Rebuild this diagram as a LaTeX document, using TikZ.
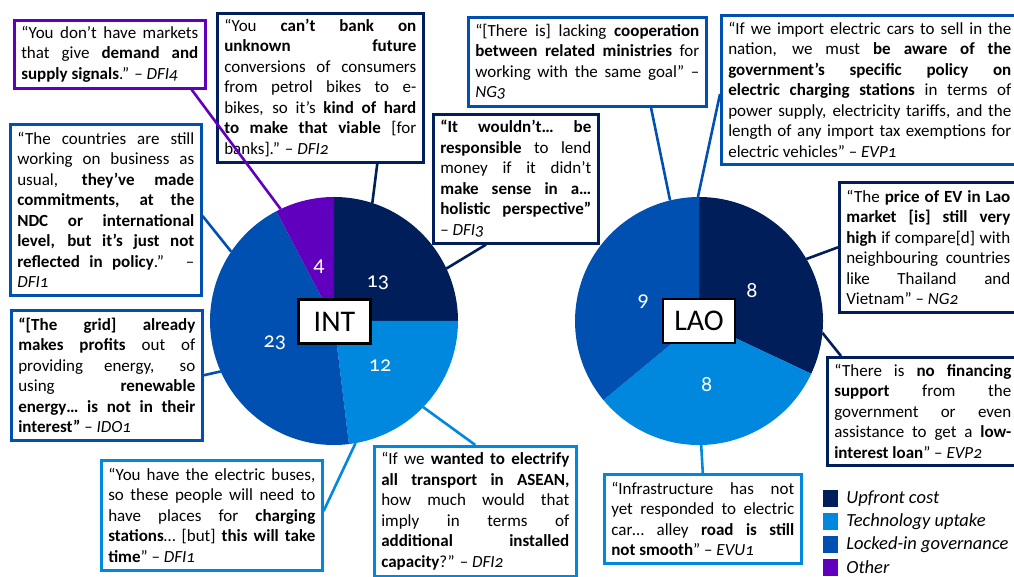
\documentclass[tikz,border=0pt]{standalone}
\usepackage{fontspec}
\setmainfont{Carlito}[Numbers=OldStyle]
\usepackage{tikz}
\usetikzlibrary{positioning}
\definecolor{upfrontNavy}{RGB}{0,30,90}
\definecolor{uptakeBlue}{RGB}{0,136,222}
\definecolor{lockedBlue}{RGB}{0,80,178}
\definecolor{otherPurple}{RGB}{96,0,190}

\begin{document}
\begin{tikzpicture}[
  x=1pt,y=1pt,
  quote/.style={draw,line width=2.6pt,fill=white,anchor=north west,align=justify,inner xsep=7pt,inner ysep=3pt,font=\fontsize{17}{20.5}\selectfont},
  link/.style={line width=2.6pt},
  pienum/.style={text=white,font=\fontsize{22}{24}\selectfont},
  tag/.style={draw=black,line width=2.4pt,fill=white,minimum width=72pt,minimum height=44pt,inner sep=0pt,font=\fontsize{30}{32}\selectfont},
  legbox/.style={minimum width=15pt,minimum height=17pt,inner sep=0pt},
  legtext/.style={inner sep=0pt,font=\fontsize{18.5}{21}\selectfont\itshape}
]
\useasboundingbox (0,0) rectangle (1014,577);
\clip (0,0) rectangle (1014,577);

% pies
\coordinate (intC) at (334,256);
\coordinate (laoC) at (699,256);
\fill[upfrontNavy] (intC) -- ++(90:124) arc[start angle=90,end angle=0,radius=124] -- cycle;
\fill[uptakeBlue] (intC) -- ++(0:124) arc[start angle=0,end angle=-83.08,radius=124] -- cycle;
\fill[lockedBlue] (intC) -- ++(-83.08:124) arc[start angle=-83.08,end angle=-242.31,radius=124] -- cycle;
\fill[otherPurple] (intC) -- ++(117.69:124) arc[start angle=117.69,end angle=90,radius=124] -- cycle;
\fill[upfrontNavy] (laoC) -- ++(90:124) arc[start angle=90,end angle=-25.2,radius=124] -- cycle;
\fill[uptakeBlue] (laoC) -- ++(-25.2:124) arc[start angle=-25.2,end angle=-140.4,radius=124] -- cycle;
\fill[lockedBlue] (laoC) -- ++(-140.4:124) arc[start angle=-140.4,end angle=-270,radius=124] -- cycle;

\node[pienum] (nIntUp) at ([shift={(41:58)}]intC) {13};
\node[pienum] (nIntTech) at ([shift={(-44:64)}]intC) {12};
\node[pienum] (nIntLock) at ([shift={(200:63)}]intC) {23};
\node[pienum] (nIntOther) at ([shift={(105.5:56)}]intC) {4};
\node[pienum] (nLaoUp) at ([shift={(30:61)}]laoC) {8};
\node[pienum] (nLaoTech) at ([shift={(-83:64)}]laoC) {8};
\node[pienum] (nLaoLock) at ([shift={(161:59)}]laoC) {9};

\node[tag] (intTag) at (334.5,255.5) {INT};
\node[tag] (laoTag) at (699,256) {LAO};

% quotes round INT
\node[quote,draw=otherPurple,text width=177pt,minimum height=68pt] (qDFIfour) at (13,558)
  {“You don't have markets\linebreak that give \textbf{demand and}\linebreak \textbf{supply signals}.” – \textit{DFI4}};
\node[quote,draw=upfrontNavy,text width=192pt,minimum height=149pt] (qDFItwoA) at (216,565)
  {“You \textbf{can't bank on}\linebreak \textbf{unknown future}\linebreak conversions of consumers\linebreak from petrol bikes to e-\linebreak bikes, so it's \textbf{kind of hard}\linebreak \textbf{to make that viable} [for\linebreak banks].” – \textit{DFI2}};
\node[quote,draw=lockedBlue,text width=177pt,minimum height=171pt] (qDFIoneA) at (9,454)
  {“The countries are still\linebreak working on business as\linebreak usual, \textbf{they've made}\linebreak \textbf{commitments, at the}\linebreak \textbf{NDC or international}\linebreak \textbf{level, but it's just not}\linebreak \textbf{reflected in policy}.” –\linebreak \textit{DFI1}};
\node[quote,draw=lockedBlue,text width=177pt,minimum height=130pt] (qIDOone) at (10,268)
  {\textbf{“[The grid] already}\linebreak \textbf{makes profits} out of\linebreak providing energy, so\linebreak using \textbf{renewable}\linebreak \textbf{energy… is not in their}\linebreak \textbf{interest”} – \textit{IDO1}};
\node[quote,draw=uptakeBlue,text width=207pt,minimum height=110pt] (qDFIoneB) at (100,118)
  {“You have the electric buses,\linebreak so these people will need to\linebreak have places for \textbf{charging}\linebreak \textbf{stations}… [but] \textbf{this will take}\linebreak \textbf{time}” – \textit{DFI1}};
\node[quote,draw=uptakeBlue,text width=188pt,minimum height=130pt] (qDFItwoB) at (373,132)
  {“If we \textbf{wanted to electrify}\linebreak \textbf{all transport in ASEAN,}\linebreak how much would that\linebreak imply in terms of\linebreak \textbf{additional installed}\linebreak \textbf{capacity}?” – \textit{DFI2}};
\node[quote,draw=upfrontNavy,text width=151pt,minimum height=129pt] (qDFIthree) at (432,464)
  {\textbf{“It wouldn't… be}\linebreak \textbf{responsible} to lend\linebreak money if it didn't\linebreak \textbf{make sense in a…}\linebreak \textbf{holistic perspective”}\linebreak – \textit{DFI3}};

% quotes round LAO
\node[quote,draw=lockedBlue,text width=224pt,minimum height=89pt] (qNGthree) at (467,561)
  {“[There is] lacking \textbf{cooperation}\linebreak \textbf{between related ministries} for\linebreak working with the same goal” –\linebreak \textit{NG3}};
\node[quote,draw=lockedBlue,text width=283pt,minimum height=149pt] (qEVPone) at (720,563)
  {“If we import electric cars to sell in the\linebreak nation, we must \textbf{be aware of the}\linebreak \textbf{government's specific policy on}\linebreak \textbf{electric charging stations} in terms of\linebreak power supply, electricity tariffs, and the\linebreak length of any import tax exemptions for\linebreak electric vehicles” – \textit{EVP1}};
\node[quote,draw=upfrontNavy,text width=164pt,minimum height=130pt] (qNGtwo) at (838,396)
  {“The \textbf{price of EV in Lao}\linebreak \textbf{market [is] still very}\linebreak \textbf{high} if compare[d] with\linebreak neighbouring countries\linebreak like Thailand and\linebreak Vietnam” – \textit{NG2}};
\node[quote,draw=upfrontNavy,text width=177pt,minimum height=108pt] (qEVPtwo) at (826,221)
  {“There is \textbf{no financing}\linebreak \textbf{support} from the\linebreak government or even\linebreak assistance to get a \textbf{low-}\linebreak \textbf{interest loan}” – \textit{EVP2}};
\node[quote,draw=uptakeBlue,text width=183pt,minimum height=89pt] (qEVUone) at (603,104)
  {“Infrastructure has not\linebreak yet responded to electric\linebreak car… alley \textbf{road is still}\linebreak \textbf{not smooth}” – \textit{EVU1}};

% links to the pies
\draw[link,otherPurple] ([xshift=-15pt]qDFIfour.south east) -- ([shift={(115.5:124)}]intC);
\draw[link,upfrontNavy] ([xshift=57pt]qDFItwoA.south) -- ([shift={(72:124)}]intC);
\draw[link,lockedBlue] ([yshift=-93pt]qDFIoneA.north east) -- ([shift={(146:124)}]intC);
\draw[link,lockedBlue] (qIDOone.east) -- ([shift={(204:124)}]intC);
\draw[link,uptakeBlue] ([yshift=-52pt]qDFIoneB.north east) -- ([shift={(-80:124)}]intC);
\draw[link,uptakeBlue] (qDFItwoB.north) -- ([shift={(-44:124)}]intC);
\draw[link,upfrontNavy] ([xshift=54pt]qDFIthree.south west) -- ([shift={(25:124)}]intC);
\draw[link,lockedBlue] ([xshift=184pt]qNGthree.south west) -- ([shift={(103.5:124)}]laoC);
\draw[link,lockedBlue] ([yshift=-80pt]qEVPone.north west) -- ([shift={(90.5:124)}]laoC);
\draw[link,upfrontNavy] (qNGtwo.west) -- ([shift={(30:124)}]laoC);
\draw[link,upfrontNavy] ([xshift=15pt]qEVPtwo.north west) -- ([shift={(-5.5:124)}]laoC);
\draw[link,uptakeBlue] (qEVUone.north) -- ([shift={(-89:124)}]laoC);

% legend
\node[legbox,fill=upfrontNavy] (kUp) at (830.5,78.5) {};
\node[legbox,fill=uptakeBlue,below=5.5pt of kUp] (kTech) {};
\node[legbox,fill=lockedBlue,below=5.5pt of kTech] (kLock) {};
\node[legbox,fill=otherPurple,below=5.5pt of kLock] (kOther) {};
\node[legtext,right=8pt of kUp] (tUp) {Upfront cost};
\node[legtext,right=8pt of kTech] (tTech) {Technology uptake};
\node[legtext,right=8pt of kLock] (tLock) {Locked-in governance};
\node[legtext,right=8pt of kOther] (tOther) {Other};
\end{tikzpicture}
\end{document}
